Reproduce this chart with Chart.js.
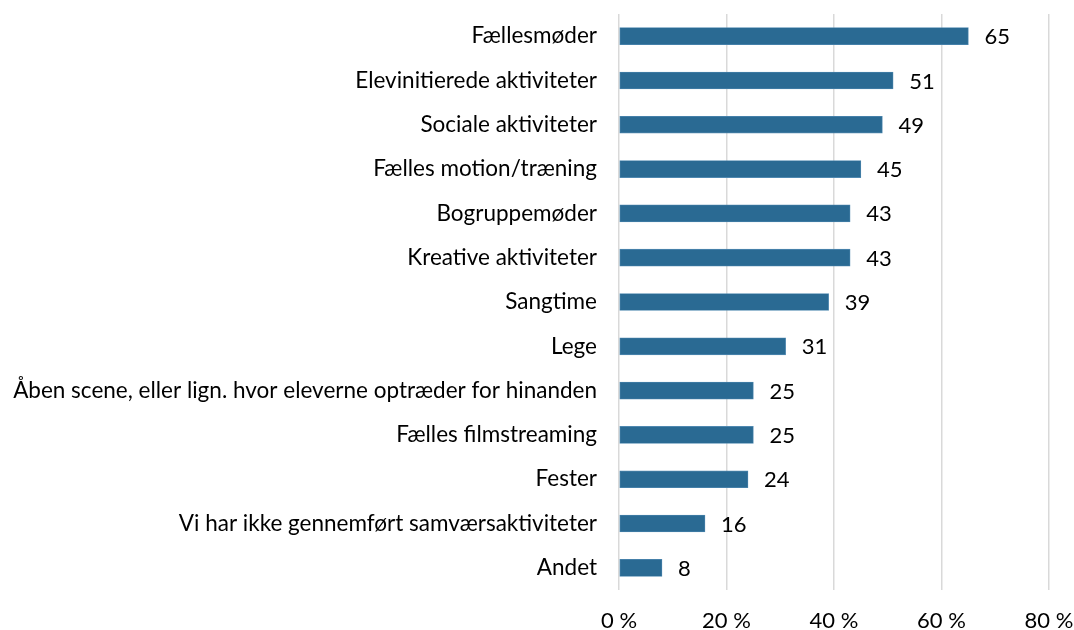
<!DOCTYPE html>
<html>
<head>
<meta charset="utf-8">
<script src="https://cdn.jsdelivr.net/npm/chart.js@4"></script>
<style>
html,body{margin:0;padding:0;background:#fff;}
#wrap{width:1074px;height:630px;position:relative;}
</style>
</head>
<body>
<div id="wrap"><canvas id="c" width="1074" height="630"></canvas></div>
<script>
const categories = [
  "Fællesmøder",
  "Elevinitierede aktiviteter",
  "Sociale aktiviteter",
  "Fælles motion/træning",
  "Bogruppemøder",
  "Kreative aktiviteter",
  "Sangtime",
  "Lege",
  "Åben scene, eller lign. hvor eleverne optræder for hinanden",
  "Fælles filmstreaming",
  "Fester",
  "Vi har ikke gennemført samværsaktiviteter",
  "Andet"
];
const values = [65, 51, 49, 45, 43, 43, 39, 31, 25, 25, 24, 16, 8];
const xTicks = [0, 20, 40, 60, 80];

const FONT = "Lato, 'Open Sans', sans-serif";
const FS = 22;

const labelPlugin = {
  id: 'valueLabels',
  afterDatasetsDraw(chart) {
    const ctx = chart.ctx;
    const meta = chart.getDatasetMeta(0);
    ctx.save();
    ctx.font = FS + 'px ' + FONT;
    ctx.fillStyle = '#000';
    ctx.textAlign = 'left';
    ctx.textBaseline = 'middle';
    meta.data.forEach((bar, i) => {
      ctx.fillText(String(values[i]), bar.x + 16, bar.y + 1);
    });
    ctx.restore();
  }
};

new Chart(document.getElementById('c'), {
  type: 'bar',
  data: {
    labels: categories,
    datasets: [{
      data: values,
      backgroundColor: '#2a6a93',
      borderColor: '#4f88b0',
      borderWidth: 0.8,
      borderSkipped: false,
      barThickness: 17
    }]
  },
  options: {
    indexAxis: 'y',
    responsive: false,
    animation: false,
    layout: { padding: { top: 14, right: 25, bottom: 0, left: 8 } },
    plugins: { legend: { display: false }, tooltip: { enabled: false } },
    scales: {
      x: {
        min: 0, max: 80,
        afterBuildTicks: s => { s.ticks = xTicks.map(v => ({ value: v })); },
        grid: { color: '#d9d9d9', lineWidth: 1.5, drawTicks: true, tickLength: 18, tickColor: 'rgba(0,0,0,0)' },
        border: { display: false },
        ticks: {
          padding: 0,
          color: '#000',
          font: { family: FONT, size: FS },
          callback: v => v + ' %'
        },
        afterFit: s => { s.height = 40; }
      },
      y: {
        grid: { display: true, color: 'rgba(0,0,0,0)', drawTicks: true, tickLength: 22, tickColor: 'rgba(0,0,0,0)' },
        border: { display: false },
        ticks: {
          padding: 0,
          color: '#000',
          autoSkip: false,
          font: { family: FONT, size: 22.5 }
        },
        afterFit: s => { s.width = 619 - 8; }
      }
    }
  },
  plugins: [labelPlugin]
});
</script>
</body>
</html>
